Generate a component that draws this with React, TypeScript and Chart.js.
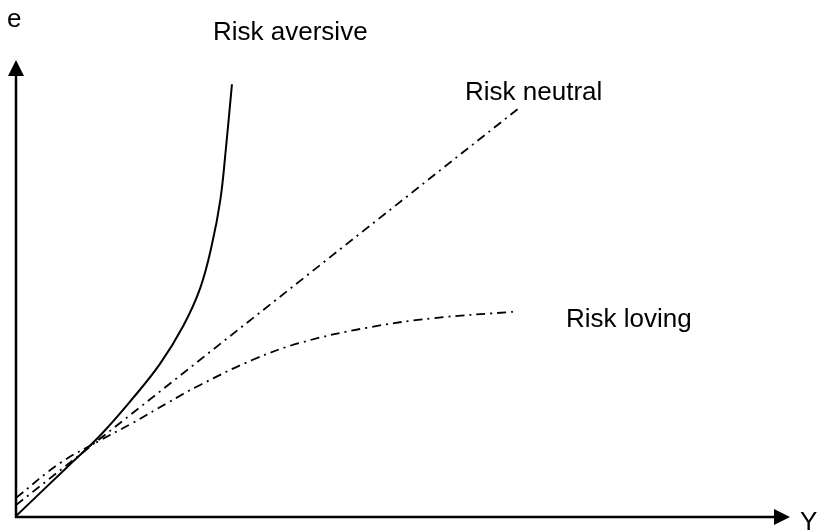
import React, { useEffect, useRef } from "react";
import { Chart, registerables } from "chart.js";

Chart.register(...registerables);

// Data (abstract units: x 0..100, y 0..100)
const aversiveX = [0, 6.6, 10.9, 15.1, 18.6, 21.6, 23.8, 25.3, 26.4, 27.1, 27.9];
const aversiveY = [0.2, 10.9, 17.9, 26.0, 33.5, 41.8, 50.1, 59.5, 69.4, 80.3, 94.7];
const neutralX = [0, 65.0];
const neutralY = [2.6, 89.5];
const lovingX = [0, 5.7, 10.9, 15.1, 19.5, 23.8, 30.6, 36.7, 45.3, 53.9, 64.2];
const lovingY = [4.2, 11.8, 16.8, 20.6, 24.9, 28.9, 34.4, 38.1, 41.4, 43.5, 44.9];
const seriesNames = ["Risk aversive", "Risk neutral", "Risk loving"];
const yAxisLabel = "e";
const xAxisLabel = "Y";

const pts = (xs: number[], ys: number[]) => xs.map((x, i) => ({ x, y: ys[i] }));

const FONT = '26px "Liberation Sans", Arial, sans-serif';

const decorPlugin = {
  id: "decor",
  afterDraw(chart: any) {
    const { ctx, chartArea } = chart;
    const { left, right, top, bottom } = chartArea;
    ctx.save();
    ctx.strokeStyle = "#000";
    ctx.fillStyle = "#000";
    ctx.lineWidth = 2.5;
    // y axis
    ctx.beginPath();
    ctx.moveTo(left, bottom + 1);
    ctx.lineTo(left, top + 14);
    ctx.stroke();
    ctx.beginPath();
    ctx.moveTo(left, top);
    ctx.lineTo(left - 8, top + 16);
    ctx.lineTo(left + 8, top + 16);
    ctx.closePath();
    ctx.fill();
    // x axis
    ctx.beginPath();
    ctx.moveTo(left - 1, bottom);
    ctx.lineTo(right - 14, bottom);
    ctx.stroke();
    ctx.beginPath();
    ctx.moveTo(right, bottom);
    ctx.lineTo(right - 16, bottom - 8);
    ctx.lineTo(right - 16, bottom + 8);
    ctx.closePath();
    ctx.fill();

    // labels
    ctx.font = FONT;
    ctx.textBaseline = "alphabetic";
    ctx.textAlign = "left";
    ctx.fillText(yAxisLabel, 7, 27);
    ctx.fillText(xAxisLabel, 800, 530);
    ctx.fillText(seriesNames[0], 213, 40);
    ctx.fillText(seriesNames[1], 465, 100);
    ctx.fillText(seriesNames[2], 566, 327);
    ctx.restore();
  },
};

export default function App() {
  const ref = useRef<HTMLCanvasElement>(null);
  useEffect(() => {
    if (!ref.current) return;
    const dashDot = [9, 5, 2, 5];
    const chart = new Chart(ref.current, {
      type: "scatter",
      data: {
        datasets: [
          {
            label: seriesNames[0],
            data: pts(aversiveX, aversiveY),
            showLine: true,
            borderColor: "#000",
            borderWidth: 2,
            pointRadius: 0,
            tension: 0.4,
          },
          {
            label: seriesNames[1],
            data: pts(neutralX, neutralY),
            showLine: true,
            borderColor: "#000",
            borderWidth: 1.8,
            borderDash: dashDot,
            pointRadius: 0,
          },
          {
            label: seriesNames[2],
            data: pts(lovingX, lovingY),
            showLine: true,
            borderColor: "#000",
            borderWidth: 1.8,
            borderDash: dashDot,
            pointRadius: 0,
            tension: 0.4,
          },
        ],
      },
      options: {
        responsive: false,
        animation: false,
        events: [],
        layout: { padding: { left: 16, right: 28, top: 60, bottom: 15 } },
        plugins: { legend: { display: false }, tooltip: { enabled: false } },
        scales: {
          x: { type: "linear", min: 0, max: 100, display: false },
          y: { type: "linear", min: 0, max: 100, display: false },
        },
      },
      plugins: [decorPlugin],
    });
    return () => chart.destroy();
  }, []);
  return (
    <div style={{ position: "absolute", left: 0, top: 0, width: 818, height: 532, background: "#fff" }}>
      <canvas ref={ref} width={818} height={532} />
    </div>
  );
}
